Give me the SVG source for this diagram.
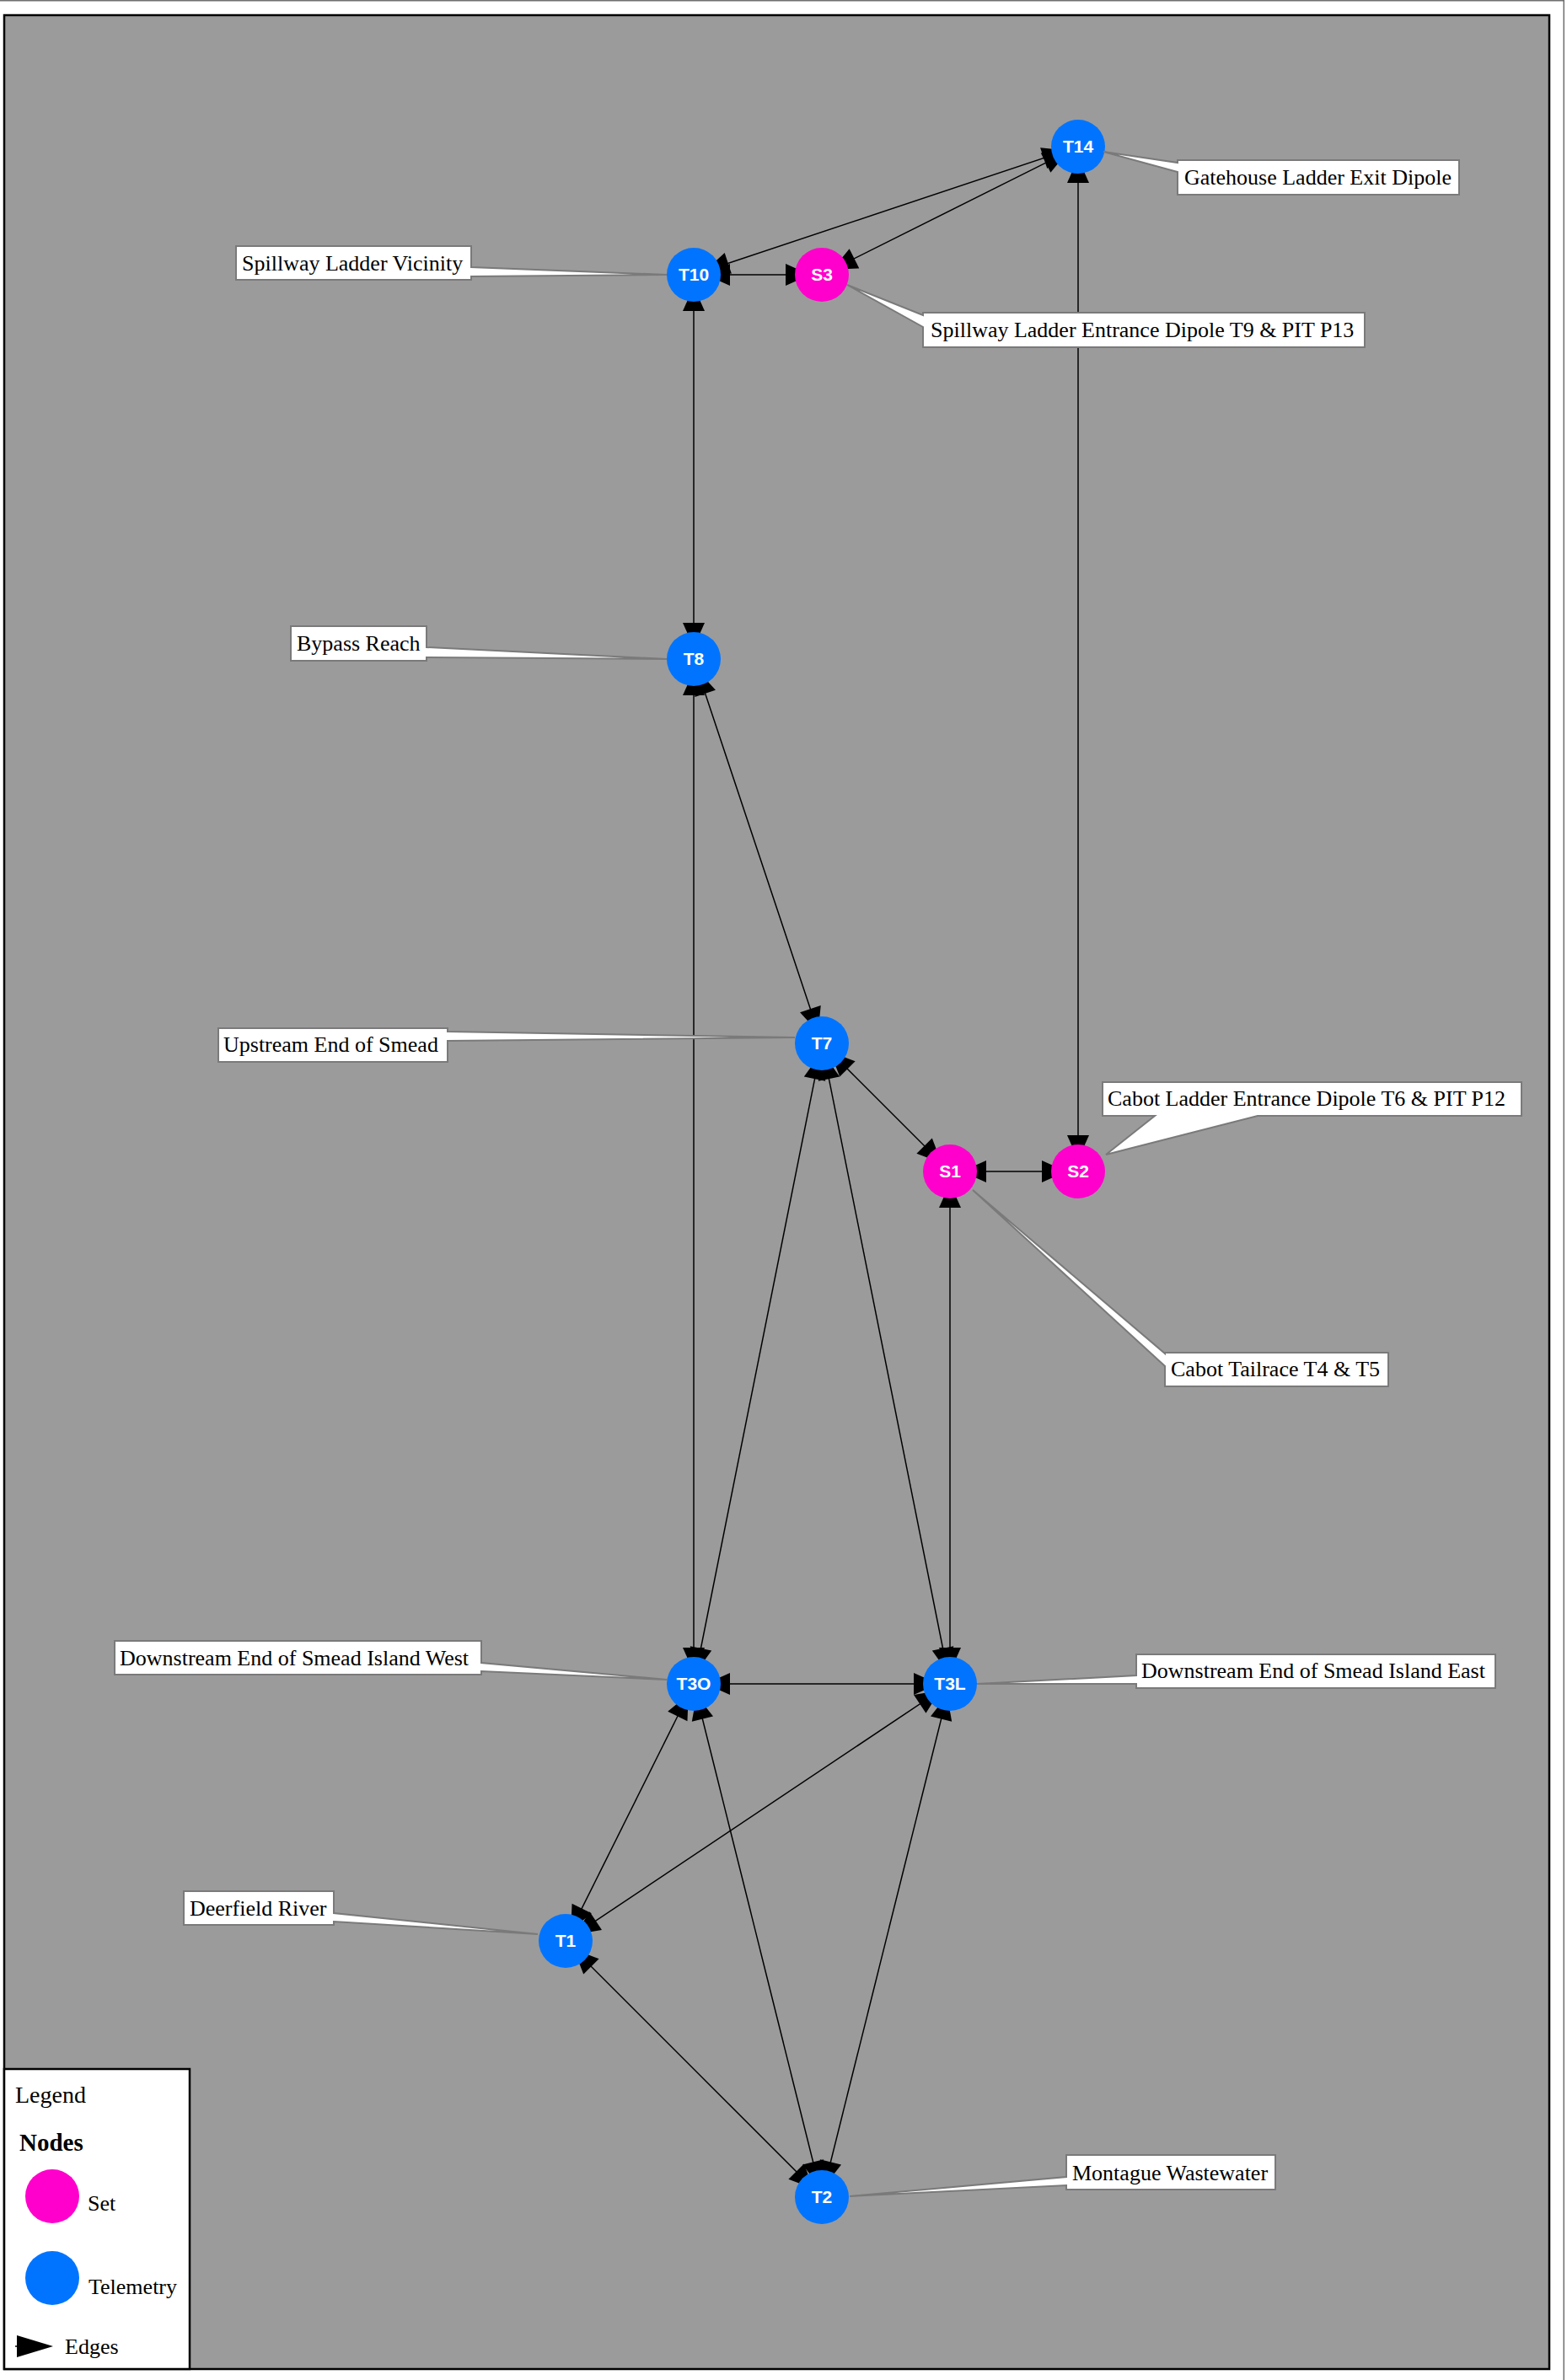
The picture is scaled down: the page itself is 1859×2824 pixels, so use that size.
<svg xmlns="http://www.w3.org/2000/svg" width="1859" height="2824" viewBox="0 0 1859 2824">
<style>
.edge{stroke:#000;stroke-width:1.5;fill:none;marker-start:url(#ah);marker-end:url(#ah)}
.tel{fill:#0074ff}
.set{fill:#ff00cc}
.nl{font-family:"Liberation Sans",Arial,sans-serif;font-weight:bold;font-size:21px;fill:#fff;text-anchor:middle}
.co{fill:#fff;stroke:#7a7a7a;stroke-width:2;stroke-linejoin:miter}
.ct{font-family:"Liberation Serif","Times New Roman",serif;font-size:26px;fill:#000}
.lg{font-family:"Liberation Serif","Times New Roman",serif;fill:#000}
</style>
<defs>
<marker id="ah" markerUnits="userSpaceOnUse" markerWidth="44" markerHeight="26" refX="43" refY="13" orient="auto-start-reverse" overflow="visible">
<path d="M0,0 L29,13 L0,26 Z" fill="#000"/>
</marker>
</defs>
<rect x="0" y="0" width="1859" height="2824" fill="#fff"/>
<path d="M0,0.75 H1855.25 V2824" fill="none" stroke="#707070" stroke-width="1.5"/>
<rect id="frame" x="5" y="18" width="1833" height="2793" fill="#9b9b9b" stroke="#000" stroke-width="2.5"/>

<g id="connectors">
<line class="edge" x1="823" y1="326" x2="1279" y2="174"/>
<line class="edge" x1="975" y1="326" x2="1279" y2="174"/>
<line class="edge" x1="823" y1="326" x2="975" y2="326"/>
<line class="edge" x1="823" y1="326" x2="823" y2="782"/>
<line class="edge" x1="1279" y1="174" x2="1279" y2="1390"/>
<line class="edge" x1="823" y1="782" x2="975" y2="1238"/>
<line class="edge" x1="823" y1="782" x2="823" y2="1998"/>
<line class="edge" x1="975" y1="1238" x2="1127" y2="1390"/>
<line class="edge" x1="975" y1="1238" x2="823" y2="1998"/>
<line class="edge" x1="975" y1="1238" x2="1127" y2="1998"/>
<line class="edge" x1="1127" y1="1390" x2="1279" y2="1390"/>
<line class="edge" x1="1127" y1="1390" x2="1127" y2="1998"/>
<line class="edge" x1="823" y1="1998" x2="1127" y2="1998"/>
<line class="edge" x1="823" y1="1998" x2="671" y2="2303"/>
<line class="edge" x1="1127" y1="1998" x2="671" y2="2303"/>
<line class="edge" x1="823" y1="1998" x2="975" y2="2607"/>
<line class="edge" x1="1127" y1="1998" x2="975" y2="2607"/>
<line class="edge" x1="671" y1="2303" x2="975" y2="2607"/>
</g>

<g id="T14"><circle class="tel" cx="1279" cy="174" r="32"/><text class="nl" x="1279" y="181">T14</text></g>
<g id="T10"><circle class="tel" cx="823" cy="326" r="32"/><text class="nl" x="823" y="333">T10</text></g>
<g id="S3"><circle class="set" cx="975" cy="326" r="32"/><text class="nl" x="975" y="333">S3</text></g>
<g id="T8"><circle class="tel" cx="823" cy="782" r="32"/><text class="nl" x="823" y="789">T8</text></g>
<g id="T7"><circle class="tel" cx="975" cy="1238" r="32"/><text class="nl" x="975" y="1245">T7</text></g>
<g id="S1"><circle class="set" cx="1127" cy="1390" r="32"/><text class="nl" x="1127" y="1397">S1</text></g>
<g id="S2"><circle class="set" cx="1279" cy="1390" r="32"/><text class="nl" x="1279" y="1397">S2</text></g>
<g id="T3O"><circle class="tel" cx="823" cy="1998" r="32"/><text class="nl" x="823" y="2005">T3O</text></g>
<g id="T3L"><circle class="tel" cx="1127" cy="1998" r="32"/><text class="nl" x="1127" y="2005">T3L</text></g>
<g id="T1"><circle class="tel" cx="671" cy="2303" r="32"/><text class="nl" x="671" y="2310">T1</text></g>
<g id="T2"><circle class="tel" cx="975" cy="2607" r="32"/><text class="nl" x="975" y="2614">T2</text></g>

<g id="label-gatehouse"><path class="co" d="M1397,190 H1731 V231 H1397 V204 L1309,180 L1397,193 Z"/><text class="ct" x="1405" y="219">Gatehouse Ladder Exit Dipole</text></g>
<g id="label-spillway-vicinity"><path class="co" d="M280,292 H559 V317 L791,326 L559,328 V332 H280 Z"/><text class="ct" x="287" y="321">Spillway Ladder Vicinity</text></g>
<g id="label-spillway-entrance"><path class="co" d="M1095,371 H1619 V412 H1095 V388 L1005,338 L1095,374 Z"/><text class="ct" x="1104" y="400">Spillway Ladder Entrance Dipole T9 &amp; PIT P13</text></g>
<g id="label-bypass"><path class="co" d="M345,743 H506 V768 L791,782 L506,780 V784 H345 Z"/><text class="ct" x="352" y="772">Bypass Reach</text></g>
<g id="label-upstream"><path class="co" d="M259,1220 H531 V1224 L943,1231 L531,1235 V1260 H259 Z"/><text class="ct" x="265" y="1248">Upstream End of Smead</text></g>
<g id="label-cabot-ladder"><path class="co" d="M1308,1284 H1805 V1324 H1492 L1312,1370 L1370,1324 H1308 Z"/><text class="ct" x="1314" y="1312">Cabot Ladder Entrance Dipole T6 &amp; PIT P12</text></g>
<g id="label-cabot-tailrace"><path class="co" d="M1382,1605 H1647 V1645 H1382 V1621 L1154,1412 L1382,1606 Z"/><text class="ct" x="1389" y="1633">Cabot Tailrace T4 &amp; T5</text></g>
<g id="label-ds-west"><path class="co" d="M136,1947 H571 V1973 L791,1993 L571,1983 V1987 H136 Z"/><text class="ct" x="142" y="1976">Downstream End of Smead Island West</text></g>
<g id="label-ds-east"><path class="co" d="M1348,1963 H1774 V2003 H1348 V1998 L1159,1998 L1348,1988 Z"/><text class="ct" x="1354" y="1991">Downstream End of Smead Island East</text></g>
<g id="label-deerfield"><path class="co" d="M218,2244 H396 V2270 L638,2295 L396,2280 V2284 H218 Z"/><text class="ct" x="225" y="2273">Deerfield River</text></g>
<g id="label-montague"><path class="co" d="M1265,2557 H1513 V2598 H1265 V2593 L1008,2606 L1265,2583 Z"/><text class="ct" x="1272" y="2587">Montague Wastewater</text></g>

<g id="legend">
<rect x="5" y="2455" width="220" height="356" fill="#fff" stroke="#000" stroke-width="2.5"/>
<text class="lg" x="18" y="2495" font-size="28">Legend</text>
<text class="lg" x="23" y="2552" font-size="29" font-weight="bold">Nodes</text>
<circle class="set" cx="62" cy="2606" r="32"/>
<text class="lg" x="104" y="2623" font-size="26">Set</text>
<circle class="tel" cx="62" cy="2703" r="32"/>
<text class="lg" x="105" y="2722" font-size="26">Telemetry</text>
<line x1="18" y1="2784" x2="22" y2="2784" stroke="#000" stroke-width="1.5"/>
<path d="M20,2771 L63,2784 L20,2797 Z" fill="#000"/>
<text class="lg" x="77" y="2793" font-size="26">Edges</text>
</g>
</svg>
